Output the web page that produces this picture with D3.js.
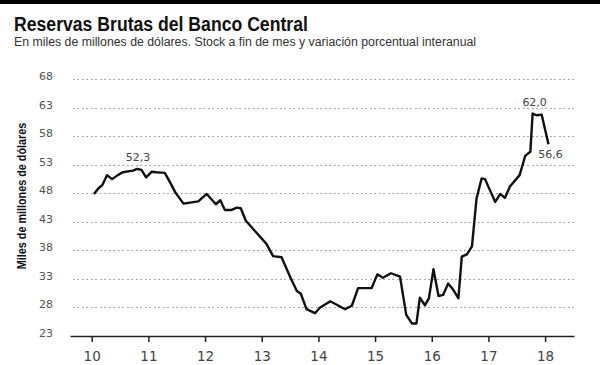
<!DOCTYPE html>
<html>
<head>
<meta charset="utf-8">
<script src="https://cdn.jsdelivr.net/npm/d3@7"></script>
<style>
  body { margin: 0; background: #fff; }
  svg { display: block; }
</style>
</head>
<body>
<script>
// posiciones en el eje (año decimal, 10 = 2010) y reservas en miles de millones
const fechas = [10.04, 10.12, 10.19, 10.27, 10.36, 10.46, 10.55, 10.67, 10.73, 10.80, 10.88, 10.96,
  11.06, 11.14, 11.29, 11.39, 11.48, 11.62, 11.88, 12.03, 12.19, 12.27, 12.35, 12.47, 12.56, 12.63,
  12.72, 12.88, 13.08, 13.20, 13.35, 13.50, 13.62, 13.69, 13.79, 13.94, 14.03, 14.21, 14.47, 14.59,
  14.70, 14.94, 15.04, 15.14, 15.28, 15.44, 15.55, 15.65, 15.73, 15.79, 15.88, 15.95, 16.03, 16.12,
  16.20, 16.29, 16.38, 16.47, 16.53, 16.62, 16.71, 16.79, 16.88, 16.94, 17.12, 17.21, 17.29, 17.38,
  17.55, 17.65, 17.74, 17.78, 17.85, 17.94, 18.06];
const reservas = [47.9, 48.9, 49.5, 51.2, 50.5, 51.2, 51.7, 51.9, 52.0, 52.3, 52.1, 50.8,
  51.8, 51.7, 51.6, 49.8, 48.1, 46.2, 46.6, 47.9, 46.1, 46.8, 45.1, 45.1, 45.5, 45.4,
  43.2, 41.4, 39.2, 37.0, 36.8, 33.4, 30.9, 30.4, 27.7, 27.0, 28.0, 29.1, 27.7, 28.3,
  31.4, 31.4, 33.8, 33.2, 34.0, 33.4, 26.7, 25.2, 25.2, 29.7, 28.4, 29.6, 34.7, 30.0,
  30.2, 32.2, 31.1, 29.6, 36.9, 37.3, 38.7, 47.1, 50.6, 50.5, 46.5, 47.9, 47.2, 49.2,
  51.2, 54.6, 55.3, 62.0, 61.7, 61.8, 56.6];
const ticksX = [10, 11, 12, 13, 14, 15, 16, 17, 18];
const ticksY = [23, 28, 33, 38, 43, 48, 53, 58, 63, 68];
const etiquetas = [[9, "52,3", "arriba"], [71, "62,0", "arriba"], [74, "56,6", "abajo"]];

const w = 600, h = 365;
const datos = fechas.map((f, i) => [f, reservas[i]]);

const svg = d3.select("body").append("svg")
  .attr("width", w)
  .attr("height", h);

svg.append("rect")
  .attr("x", 0).attr("y", 0)
  .attr("width", w).attr("height", 4)
  .attr("fill", "#000");

// no hay fuente condensada instalada: se estrecha la Liberation Sans
svg.append("text")
  .text("Reservas Brutas del Banco Central")
  .attr("transform", "translate(14,31) scale(0.84,1)")
  .attr("font-family", "'Liberation Sans', Arial, sans-serif")
  .attr("font-weight", "bold")
  .attr("font-size", "21px")
  .attr("fill", "#111");

svg.append("text")
  .text("En miles de millones de dólares. Stock a fin de mes y variación porcentual interanual")
  .attr("x", 14).attr("y", 46)
  .attr("font-family", "'Liberation Sans', Arial, sans-serif")
  .attr("font-size", "12.3px")
  .attr("fill", "#333");

const xScale = d3.scaleLinear()
  .domain([9.617, 18.51])
  .range([70, 574]);

const yScale = d3.scaleLinear()
  .domain([23, 68])
  .range([336, 79.3]);

// rejilla punteada y etiquetas del eje y
const yAxis = d3.axisLeft(yScale)
  .tickValues(ticksY)
  .tickSize(504)
  .tickPadding(17)
  .tickFormat(d3.format("d"));

const gy = svg.append("g")
  .attr("transform", "translate(574,0)")
  .call(yAxis);
gy.select(".domain").remove();
gy.selectAll(".tick line")
  .attr("stroke", "#aaa")
  .attr("stroke-dasharray", "2,2.5")
  .attr("shape-rendering", "crispEdges");
gy.selectAll(".tick text")
  .attr("dy", "0.5")
  .attr("font-family", "'DejaVu Sans', sans-serif")
  .attr("font-size", "11px")
  .attr("fill", "#555");

const xAxis = d3.axisBottom(xScale)
  .tickValues(ticksX)
  .tickSize(6)
  .tickSizeOuter(0)
  .tickPadding(9)
  .tickFormat(d3.format("d"));

const gx = svg.append("g")
  .attr("transform", "translate(0,336)")
  .call(xAxis);
gx.select(".domain").attr("stroke", "#222").attr("stroke-width", 1.5);
gx.selectAll(".tick line").attr("stroke", "#222").attr("stroke-width", 1.5);
gx.selectAll(".tick text")
  .attr("font-family", "'DejaVu Sans', sans-serif")
  .attr("font-size", "13.5px")
  .attr("fill", "#444");

svg.append("text")
  .text("Miles de millones de dólares")
  .attr("transform", "translate(26,196) rotate(-90) scale(0.9,1)")
  .attr("text-anchor", "middle")
  .attr("font-family", "'Liberation Sans', Arial, sans-serif")
  .attr("font-weight", "bold")
  .attr("font-size", "12px")
  .attr("fill", "#111");

const line = d3.line()
  .x(d => xScale(d[0]))
  .y(d => yScale(d[1]));

svg.append("path")
  .datum(datos)
  .attr("d", line)
  .attr("fill", "none")
  .attr("stroke", "#111")
  .attr("stroke-width", 2.4)
  .attr("stroke-linejoin", "round");

svg.selectAll(".etiqueta")
  .data(etiquetas)
  .enter()
  .append("text")
  .attr("class", "etiqueta")
  .text(d => d[1])
  .attr("x", d => xScale(fechas[d[0]]) + (d[0] == 9 ? 1 : 2))
  .attr("y", d => yScale(reservas[d[0]]) + (d[2] == "arriba" ? -8 : 14))
  .attr("text-anchor", "middle")
  .attr("font-family", "'DejaVu Sans', sans-serif")
  .attr("font-size", "11px")
  .attr("fill", "#444");
</script>
</body>
</html>
